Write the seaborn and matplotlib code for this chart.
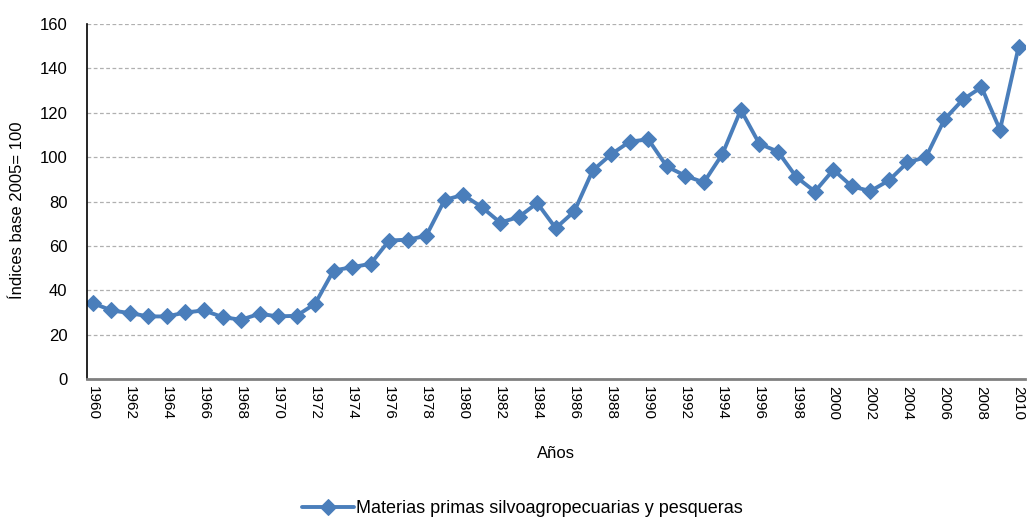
import matplotlib
matplotlib.use("Agg")
import matplotlib.pyplot as plt
import seaborn as sns
import pandas as pd

years = list(range(1960, 2011))
values = [34.2, 30.9, 29.7, 28.2, 28.2, 30.0, 30.9, 27.9, 26.7, 29.4,
          28.2, 28.5, 33.9, 48.9, 50.4, 51.9, 62.4, 62.8, 64.5, 80.7,
          83.0, 77.5, 70.5, 73.0, 79.3, 68.0, 75.5, 94.0, 101.3, 107.0,
          108.0, 95.8, 91.6, 88.6, 101.3, 121.3, 106.0, 102.5, 91.0, 84.5,
          94.3, 86.8, 84.7, 89.5, 97.6, 100.0, 117.0, 126.0, 131.5, 112.3,
          149.5]
series_name = "Materias primas silvoagropecuarias y pesqueras"
y_label = "Índices base 2005= 100"
x_label = "Años"
xtick_years = list(range(1960, 2011, 2))
ytick_vals = list(range(0, 161, 20))

df = pd.DataFrame({"year": years, "value": values, "serie": series_name})

sns.set_theme(style="white")
plt.rcParams['font.family'] = ['Liberation Sans', 'DejaVu Sans']
for k in ["text.color", "axes.labelcolor", "xtick.color", "ytick.color"]:
    plt.rcParams[k] = "black"

fig = plt.figure(figsize=(10.28, 5.21), dpi=100)
ax = fig.add_axes([87/1028, 1 - 379/521, (1025 - 87)/1028, (379 - 24)/521])

color = "#4a7ebb"
sns.lineplot(data=df, x="year", y="value", hue="serie", palette=[color],
             marker="D", markersize=8, markeredgecolor=color, linewidth=2.8,
             ax=ax, legend=True)

ax.set_xlim(1959.68, 2010.35)
ax.set_ylim(0, 160)
ax.set_yticks(ytick_vals)
ax.set_xticks(xtick_years)
ax.set_xticklabels([str(y) for y in xtick_years], rotation=-90, fontsize=11)
ax.tick_params(axis='y', labelsize=12, length=0, pad=14)
ax.tick_params(axis='x', length=0, pad=5)
ax.yaxis.grid(True, linestyle=(0, (3, 2)), color="#b0b0b0", linewidth=0.9)
ax.xaxis.grid(False)

for s in ["top", "right"]:
    ax.spines[s].set_visible(False)
ax.spines["left"].set_color("black")
ax.spines["left"].set_linewidth(1.2)
ax.spines["bottom"].set_color("#808080")
ax.spines["bottom"].set_linewidth(2)

ax.set_xlabel(x_label, fontsize=12, labelpad=19)
ax.set_ylabel(y_label, fontsize=12)
ax.yaxis.set_label_coords(-0.066, 0.476)

handles, labels = ax.get_legend_handles_labels()
ax.legend(handles, labels, loc="center", bbox_to_anchor=(0.4638, -0.366),
          frameon=False, fontsize=13, handlelength=2.9, handletextpad=0.1)

fig.savefig("out.png", dpi=100)
